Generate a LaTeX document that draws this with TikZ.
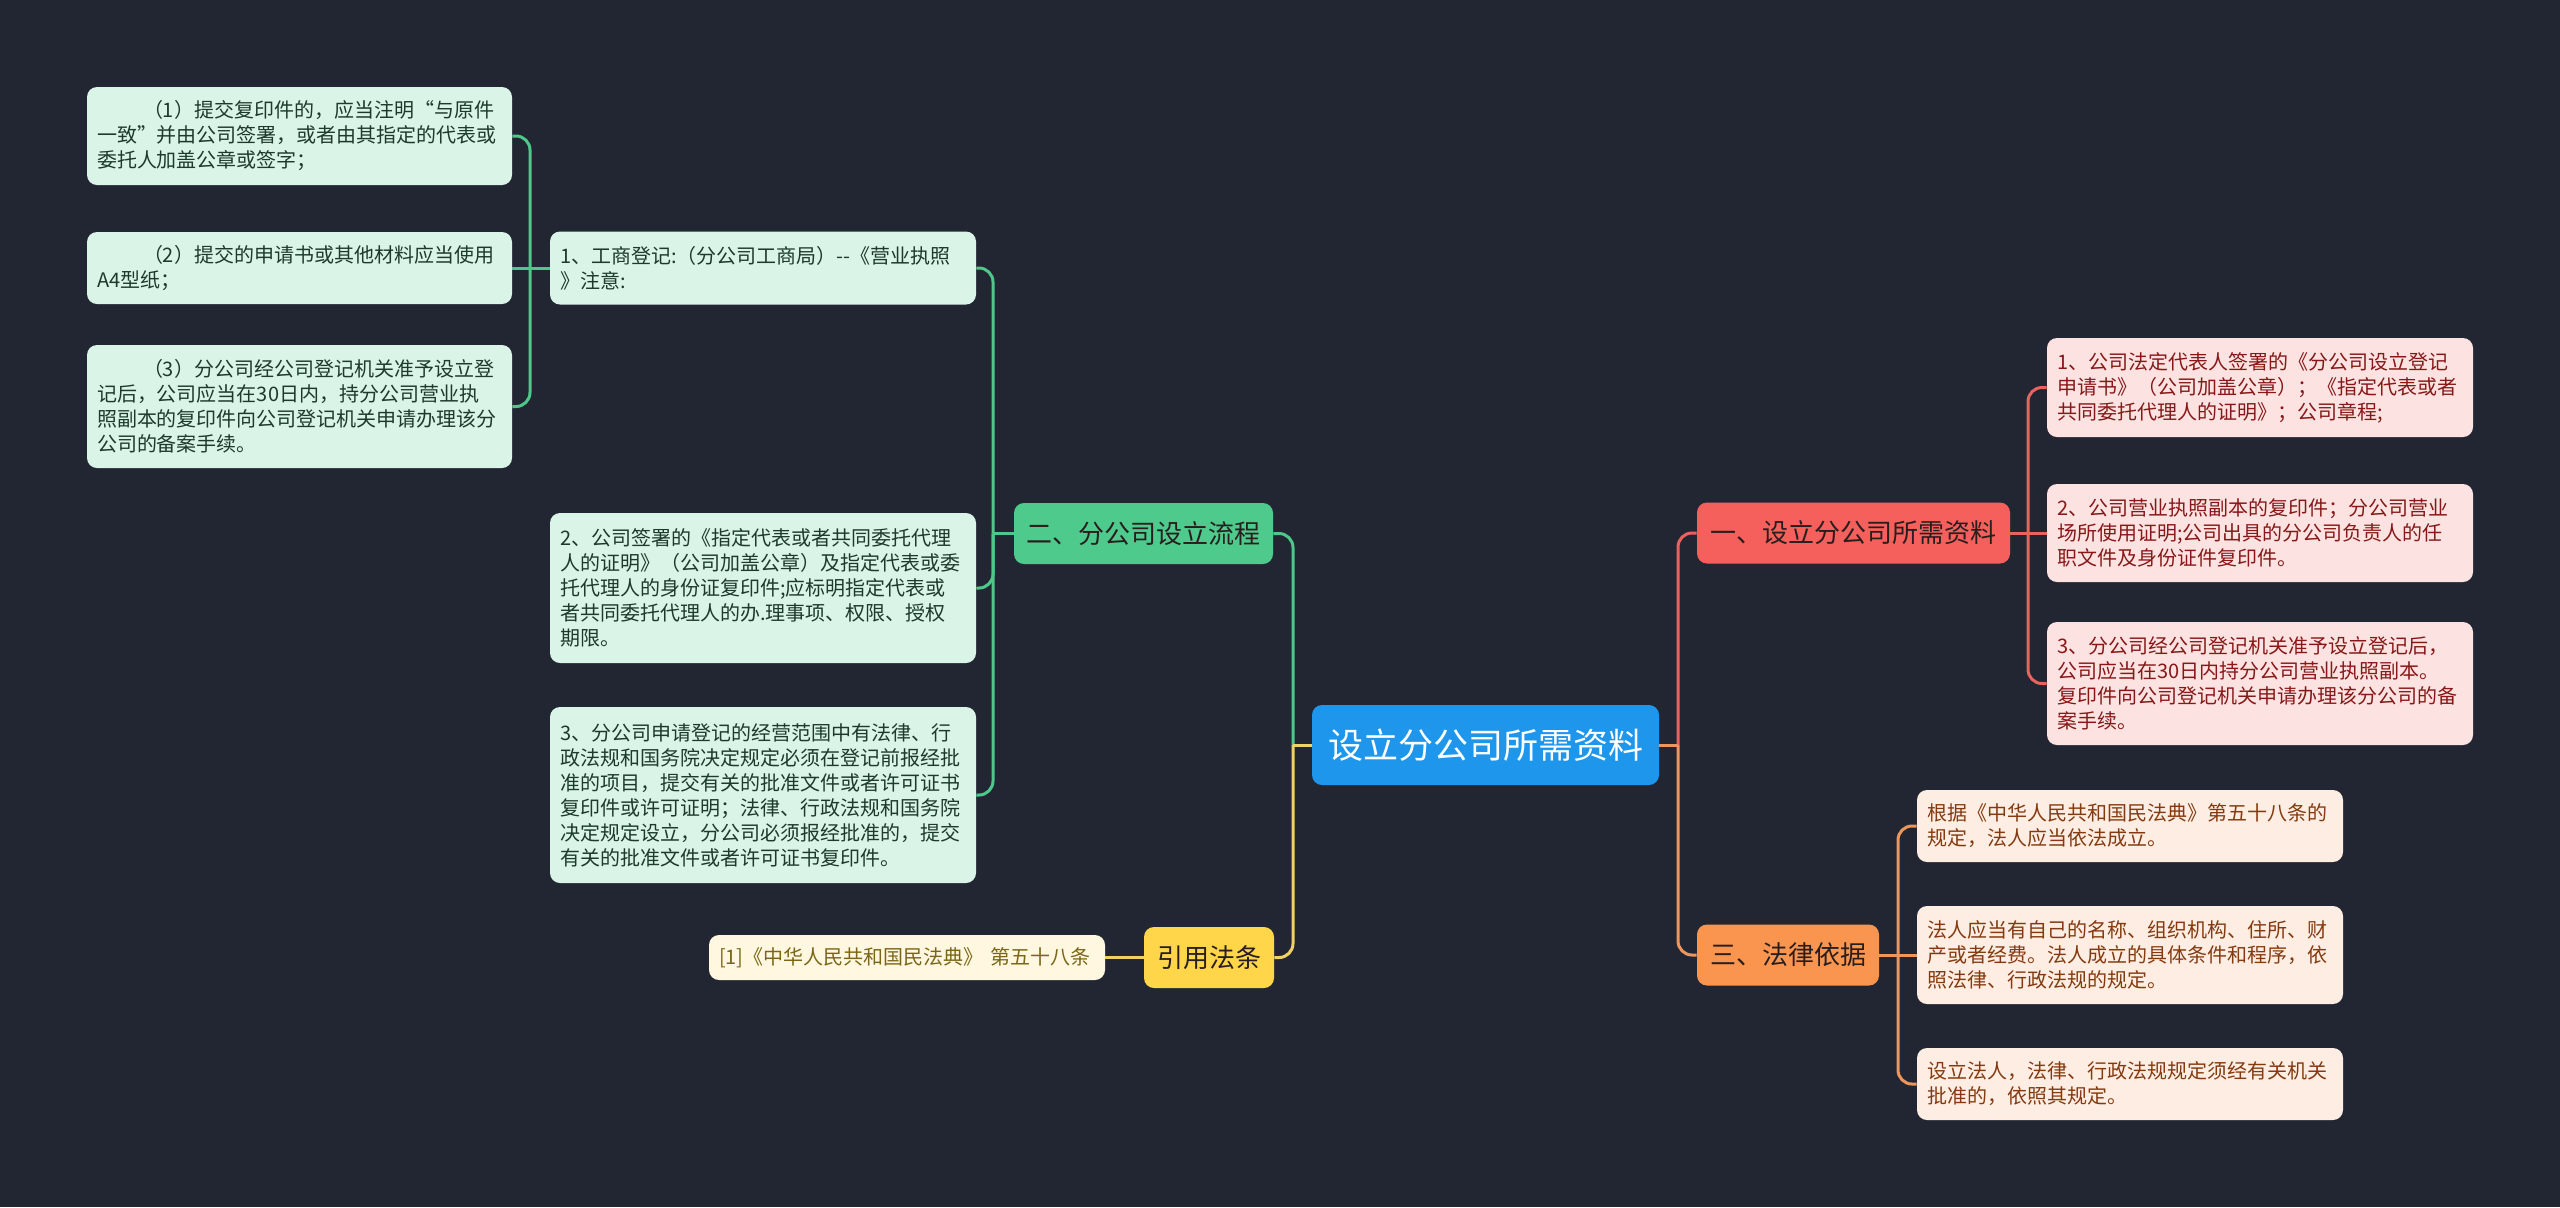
\documentclass[tikz,border=0pt]{standalone}
\usepackage{fontspec}
\setmainfont{Noto Sans CJK SC}
\definecolor{bg}{RGB}{34,38,50}
\definecolor{rootc}{RGB}{30,150,236}
\definecolor{rbc}{RGB}{245,96,92}
\definecolor{obc}{RGB}{250,149,80}
\definecolor{gbc}{RGB}{78,202,140}
\definecolor{ybc}{RGB}{255,214,74}
\definecolor{rleafc}{RGB}{253,226,226}
\definecolor{oleafc}{RGB}{254,237,226}
\definecolor{gleafc}{RGB}{218,244,232}
\definecolor{yleafc}{RGB}{255,247,224}
\definecolor{rtext}{RGB}{135,24,24}
\definecolor{otext}{RGB}{132,58,16}
\definecolor{gtext}{RGB}{30,58,44}
\definecolor{ytext}{RGB}{122,102,22}
\definecolor{darktext}{RGB}{40,30,30}
\definecolor{rline}{RGB}{232,98,96}
\definecolor{oline}{RGB}{236,150,94}
\definecolor{gline}{RGB}{78,200,138}
\definecolor{yline}{RGB}{240,210,100}
\newcommand{\myopenq}{\makebox[1em][r]{“}}
\newcommand{\myclosq}{\makebox[1em][l]{”}}
\begin{document}
\begin{tikzpicture}[x=0.5pt,y=-0.5pt,
  leaf/.style={rounded corners=5pt, inner xsep=5pt, inner ysep=0pt, align=left,
    font=\fontsize{10pt}{12.5pt}\selectfont, text width=203pt},
  rleaf/.style={leaf, fill=rleafc, text=rtext},
  oleaf/.style={leaf, fill=oleafc, text=otext},
  gleaf/.style={leaf, fill=gleafc, text=gtext},
  yleaf/.style={leaf, fill=yleafc, text=ytext},
  branch/.style={rounded corners=5pt, inner sep=0pt, minimum height=30.5pt,
    font=\fontsize{13pt}{15pt}\selectfont, text=darktext},
  conn/.style={line width=1.5pt, rounded corners=7pt},
  rconn/.style={conn, draw=rline},
  oconn/.style={conn, draw=oline},
  gconn/.style={conn, draw=gline},
  yconn/.style={conn, draw=yline}]
\useasboundingbox (0,0) rectangle (2560,1207);
\fill[bg] (0,0) rectangle (2560,1207);

% root
\node[rounded corners=5pt, fill=rootc, text=white, inner sep=0pt,
  minimum width=173.5pt, minimum height=40pt,
  font=\fontsize{17.5pt}{20pt}\selectfont] (root) at (1485.5,745) {设立分公司所需资料};

% branches
\node[branch, fill=rbc, minimum width=156.5pt] (rb) at (1853.5,533) {一、设立分公司所需资料};
\node[branch, fill=obc, minimum width=91pt] (ob) at (1788,955) {三、法律依据};
\node[branch, fill=gbc, minimum width=129.5pt] (gb) at (1143.5,533.5) {二、分公司设立流程};
\node[branch, fill=ybc, minimum width=65pt] (yb) at (1209,957.5) {引用法条};

% red leaves
\node[rleaf, minimum height=49.5pt] (r1) at (2260,387.5) {1、公司法定代表人签署的《分公司设立登记\\申请书》（公司加盖公章）；《指定代表或者\\共同委托代理人的证明》；公司章程;};
\node[rleaf, minimum height=49pt] (r2) at (2260,533) {2、公司营业执照副本的复印件；分公司营业\\场所使用证明;公司出具的分公司负责人的任\\职文件及身份证件复印件。};
\node[rleaf, minimum height=61.5pt] (r3) at (2260,683.5) {3、分公司经公司登记机关准予设立登记后，\\公司应当在30日内持分公司营业执照副本。\\复印件向公司登记机关申请办理该分公司的备\\案手续。};

% orange leaves
\node[oleaf, minimum height=36pt] (o1) at (2130,826) {根据《中华人民共和国民法典》第五十八条的\\规定，法人应当依法成立。};
\node[oleaf, minimum height=49pt] (o2) at (2130,955) {法人应当有自己的名称、组织机构、住所、财\\产或者经费。法人成立的具体条件和程序，依\\照法律、行政法规的规定。};
\node[oleaf, minimum height=36pt] (o3) at (2130,1084) {设立法人，法律、行政法规规定须经有关机关\\批准的，依照其规定。};

% green leaves level 2
\node[gleaf, minimum height=36.5pt] (g1) at (763,268) {1、工商登记:（分公司工商局）-{}-《营业执照\\》注意:};
\node[gleaf, minimum height=75pt] (g2) at (763,588) {2、公司签署的《指定代表或者共同委托代理\\人的证明》（公司加盖公章）及指定代表或委\\托代理人的身份证复印件;应标明指定代表或\\者共同委托代理人的办.理事项、权限、授权\\期限。};
\node[gleaf, minimum height=88pt] (g3) at (763,795) {3、分公司申请登记的经营范围中有法律、行\\政法规和国务院决定规定必须在登记前报经批\\准的项目，提交有关的批准文件或者许可证书\\复印件或许可证明；法律、行政法规和国务院\\决定规定设立，分公司必须报经批准的，提交\\有关的批准文件或者许可证书复印件。};

% green leaves level 3
\node[gleaf, text width=202.5pt, minimum height=49pt] (g1a) at (299.5,136) {\hspace*{2.3em}（1）提交复印件的，应当注明\myopenq 与原件\\一致\myclosq 并由公司签署，或者由其指定的代表或\\委托人加盖公章或签字；};
\node[gleaf, text width=202.5pt, minimum height=36pt] (g1b) at (299.5,268) {\hspace*{2.3em}（2）提交的申请书或其他材料应当使用\\A4型纸；};
\node[gleaf, text width=202.5pt, minimum height=61.5pt] (g1c) at (299.5,406.5) {\hspace*{2.3em}（3）分公司经公司登记机关准予设立登\\记后，公司应当在30日内，持分公司营业执\\照副本的复印件向公司登记机关申请办理该分\\公司的备案手续。};

% yellow leaf
\node[yleaf, text width=188pt, minimum height=22.5pt] (yl) at (907,957.5) {[1]《中华人民共和国民法典》 第五十八条};

% junctions
\coordinate (jR) at (1678,745);
\coordinate (jL) at (1293,745);
\coordinate (jr) at (2028,533);
\coordinate (jo) at (1898,955);
\coordinate (jg) at (993,533.5);
\coordinate (jg1) at (530,268);

% root connectors
\draw[rconn] (jR) |- (rb.west);
\draw[oconn] (jR) |- (ob.west);
\draw[oconn] (root.east) -- (jR);
\draw[gconn] (jL) |- (gb.east);
\draw[yconn] (jL) |- (yb.east);
\draw[yconn] (root.west) -- (jL);

% red
\draw[rconn] (rb.east) -- (jr);
\draw[rconn] (jr) |- (r1.west);
\draw[rconn] (jr) -- (r2.west);
\draw[rconn] (jr) |- (r3.west);

% orange
\draw[oconn] (ob.east) -- (jo);
\draw[oconn] (jo) |- (o1.west);
\draw[oconn] (jo) -- (o2.west);
\draw[oconn] (jo) |- (o3.west);

% green
\draw[gconn] (gb.west) -- (jg);
\draw[gconn] (jg) |- (g1.east);
\draw[gconn] (jg) |- (g2.east);
\draw[gconn] (jg) |- (g3.east);
\draw[gconn] (g1.west) -- (jg1);
\draw[gconn] (jg1) |- (g1a.east);
\draw[gconn] (jg1) -- (g1b.east);
\draw[gconn] (jg1) |- (g1c.east);

% yellow
\draw[yconn] (yb.west) -- (yl.east);
\end{tikzpicture}
\end{document}
